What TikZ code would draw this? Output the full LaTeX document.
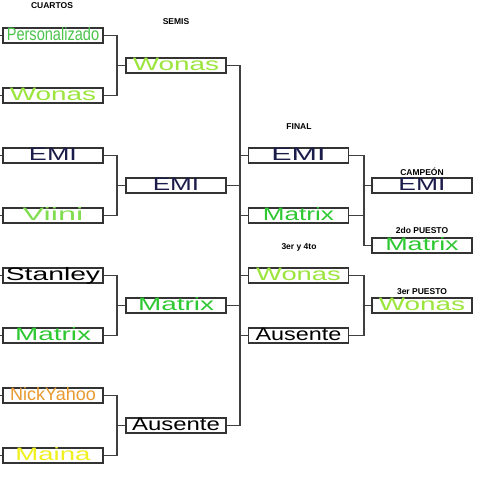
\documentclass[tikz,border=0pt]{standalone}
\usepackage{fontspec}
\setmainfont{Liberation Sans}
\usepackage{graphicx}
\usetikzlibrary{positioning,calc}
\usepackage{xcolor}
\definecolor{persgreen}{HTML}{4CC44C}
\definecolor{wonasgreen}{HTML}{9BE53C}
\definecolor{viinigreen}{HTML}{80DD50}
\definecolor{matrixgreen}{HTML}{2EC832}
\definecolor{emiblue}{HTML}{1C1C4A}
\definecolor{nickorange}{HTML}{E89A30}
\definecolor{mainayellow}{HTML}{F0F01E}
\newcommand{\widen}[2]{\scalebox{#1}[1]{#2}}

\begin{document}
\begin{tikzpicture}[x=1pt, y=-1pt,
    slot/.style={rectangle, draw=black!80, line width=1.1pt, fill=white, minimum width=100pt, minimum height=15pt, inner sep=0pt, text height=12pt, text depth=2pt, font=\fontsize{18}{18}\selectfont},
    wire/.style={draw=black!75, line width=1.1pt},
    heading/.style={font=\fontsize{8.5}{8.5}\selectfont\bfseries, inner sep=0pt}
  ]
    \useasboundingbox (0,0) rectangle (480,480);

    % cuartos
    \node[slot, text=persgreen] (q1) at (53,35.5) {\widen{0.81}{Personalizado}};
    \node[slot, text=wonasgreen] (q2) at (53,95.5) {\widen{1.55}{Wonas}};
    \node[slot, text=emiblue] (q3) at (53,155.5) {\widen{1.5}{EMI}};
    \node[slot, text=viinigreen] (q4) at (53,215.5) {\widen{1.8}{Viini}};
    \node[slot, text=black] (q5) at (53,275.5) {\widen{1.57}{Stanley}};
    \node[slot, text=matrixgreen] (q6) at (53,335.5) {\widen{1.55}{Matrix}};
    \node[slot, text=nickorange] (q7) at (53,395.5) {\widen{1.0}{NickYahoo}};
    \node[slot, text=mainayellow] (q8) at (53,455.5) {\widen{1.53}{Maina}};
    \node[heading] at (52,6) {CUARTOS};

    % semis
    \node[slot, text=wonasgreen] (s1) at (176,65.5) {\widen{1.55}{Wonas}};
    \node[slot, text=emiblue] (s2) at (176,185.5) {\widen{1.45}{EMI}};
    \node[slot, text=matrixgreen] (s3) at (176,305.5) {\widen{1.55}{Matrix}};
    \node[slot, text=black] (s4) at (176,425.5) {\widen{1.33}{Ausente}};
    \node[heading] at (176,21.5) {SEMIS};

    % final y 3er y 4to
    \node[slot, text=emiblue] (f1) at (298.5,155.5) {\widen{1.7}{EMI}};
    \node[slot, text=matrixgreen] (f2) at (298.5,215.5) {\widen{1.45}{Matrix}};
    \node[slot, text=wonasgreen] (f3) at (298.5,275.5) {\widen{1.52}{Wonas}};
    \node[slot, text=black] (f4) at (298.5,335.5) {\widen{1.3}{Ausente}};
    \node[heading] at (299,126.5) {FINAL};
    \node[heading] at (299,247.5) {3er y 4to};

    % puestos
    \node[slot, text=emiblue] (p1) at (422,185.5) {\widen{1.47}{EMI}};
    \node[slot, text=matrixgreen] (p2) at (422,245.5) {\widen{1.5}{Matrix}};
    \node[slot, text=wonasgreen] (p3) at (422,305.5) {\widen{1.55}{Wonas}};
    \node[heading] at (422,171.5) {CAMPEÓN};
    \node[heading] at (422,230.5) {2do PUESTO};
    \node[heading] at (422,292) {3er PUESTO};

    % joints
    \coordinate (edge) at (0,0);
    \coordinate (j1) at (117,65.5);
    \coordinate (j2) at (117,185.5);
    \coordinate (j3) at (117,305.5);
    \coordinate (j4) at (117,425.5);
    \coordinate (jf) at (240,0);
    \coordinate (jc) at (364,185.5);
    \coordinate (jt) at (364,305.5);

    \foreach \q in {q1,q2,q3,q4,q5,q6,q7,q8}
      \draw[wire] (\q.west) -- (\q.west -| edge);

    \draw[wire] (q1.east) -| (j1) |- (q2.east);
    \draw[wire] (j1) -- (s1.west);
    \draw[wire] (q3.east) -| (j2) |- (q4.east);
    \draw[wire] (j2) -- (s2.west);
    \draw[wire] (q5.east) -| (j3) |- (q6.east);
    \draw[wire] (j3) -- (s3.west);
    \draw[wire] (q7.east) -| (j4) |- (q8.east);
    \draw[wire] (j4) -- (s4.west);

    \draw[wire] (s1.east) -| (jf |- s4.east) -- (s4.east);
    \draw[wire] (s2.east) -- (s2.east -| jf);
    \draw[wire] (s3.east) -- (s3.east -| jf);
    \foreach \f in {f1,f2,f3,f4}
      \draw[wire] (\f.west -| jf) -- (\f.west);

    \draw[wire] (f1.east) -| (jc |- p2.west) -- (p2.west);
    \draw[wire] (f2.east) -- (f2.east -| jc);
    \draw[wire] (jc) -- (p1.west);
    \draw[wire] (f3.east) -| (jt) |- (f4.east);
    \draw[wire] (jt) -- (p3.west);
  \end{tikzpicture}
\end{document}
